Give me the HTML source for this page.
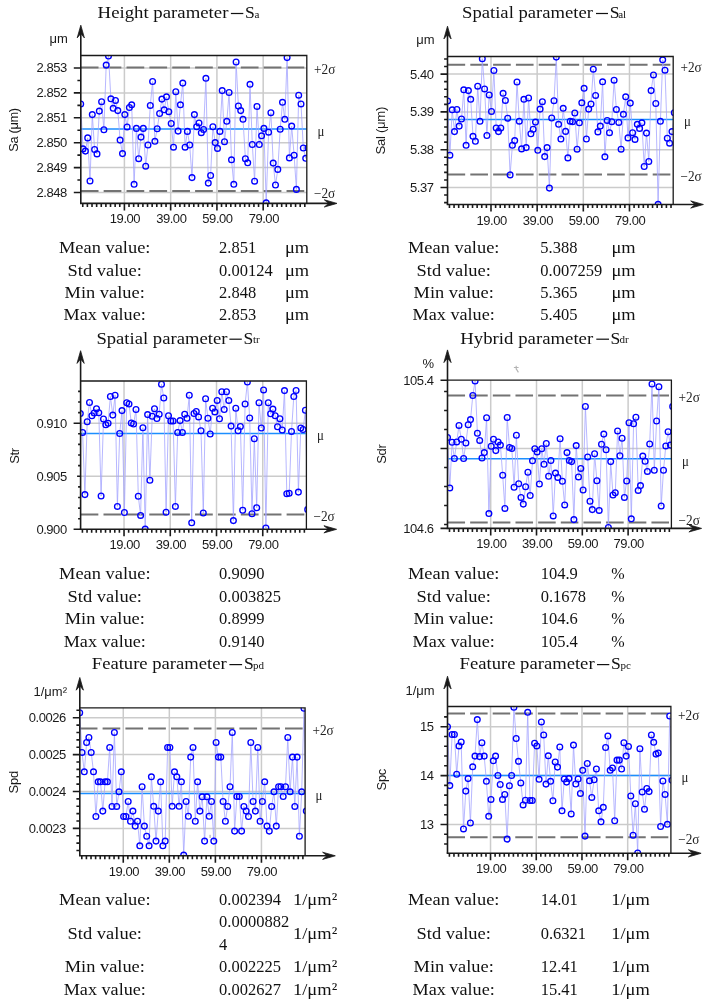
<!DOCTYPE html>
<html><head><meta charset="utf-8"><style>
html,body{margin:0;padding:0;background:#fff;}
svg{display:block;}
.txt{filter:grayscale(1);}
.tk{font-family:"Liberation Sans", sans-serif;font-size:13px;fill:#1a1a1a;letter-spacing:-0.45px;}
.un{font-family:"Liberation Sans", sans-serif;font-size:13px;fill:#1a1a1a;}
.yl{font-family:"Liberation Sans", sans-serif;font-size:13px;fill:#1a1a1a;letter-spacing:-0.3px;}
.rl{font-family:"Liberation Serif", serif;font-size:14px;fill:#222;}
.ti{font-family:"Liberation Serif", serif;font-size:17.6px;fill:#111;}
.sb{font-family:"Liberation Serif", serif;font-size:11px;fill:#111;}
.tb{font-family:"Liberation Serif", serif;font-size:17.2px;fill:#111;}
.tv{font-family:"Liberation Serif", serif;font-size:17.5px;fill:#111;}
</style></head><body>
<svg width="710" height="1003" viewBox="0 0 710 1003">
<rect width="710" height="1003" fill="#fff"/>
<line x1="80.8" y1="68.00" x2="306.8" y2="68.00" stroke="#cbcbcb" stroke-width="1.5"/>
<line x1="80.8" y1="92.90" x2="306.8" y2="92.90" stroke="#cbcbcb" stroke-width="1.5"/>
<line x1="80.8" y1="117.80" x2="306.8" y2="117.80" stroke="#cbcbcb" stroke-width="1.5"/>
<line x1="80.8" y1="142.70" x2="306.8" y2="142.70" stroke="#cbcbcb" stroke-width="1.5"/>
<line x1="80.8" y1="167.60" x2="306.8" y2="167.60" stroke="#cbcbcb" stroke-width="1.5"/>
<line x1="80.8" y1="192.50" x2="306.8" y2="192.50" stroke="#cbcbcb" stroke-width="1.5"/>
<line x1="124.40" y1="55.5" x2="124.40" y2="203.4" stroke="#cbcbcb" stroke-width="1.5"/>
<line x1="170.66" y1="55.5" x2="170.66" y2="203.4" stroke="#cbcbcb" stroke-width="1.5"/>
<line x1="216.92" y1="55.5" x2="216.92" y2="203.4" stroke="#cbcbcb" stroke-width="1.5"/>
<line x1="263.18" y1="55.5" x2="263.18" y2="203.4" stroke="#cbcbcb" stroke-width="1.5"/>
<line x1="80.8" y1="67.5" x2="306.8" y2="67.5" stroke="#737373" stroke-width="2" stroke-dasharray="17.72 5.14"/>
<line x1="80.8" y1="191.1" x2="306.8" y2="191.1" stroke="#737373" stroke-width="2" stroke-dasharray="17.72 5.14"/>
<line x1="80.8" y1="129.1" x2="306.8" y2="129.1" stroke="#1c8eff" stroke-width="1.5"/>
<clipPath id="c13"><rect x="80.8" y="55.5" width="226.0" height="147.9"/></clipPath>
<g clip-path="url(#c13)">
<polyline points="80.7,104.0 83.0,148.9 85.4,151.1 87.7,137.9 90.0,181.0 92.3,114.6 94.6,149.5 97.0,153.9 99.3,111.1 101.6,101.7 103.9,129.7 106.2,65.1 108.5,56.0 110.9,98.8 113.2,108.3 115.5,100.4 117.8,110.6 120.1,140.1 122.5,153.6 124.8,114.6 127.1,126.9 129.4,107.5 131.7,104.8 134.1,184.3 136.4,128.4 138.7,158.7 141.0,137.1 143.3,128.4 145.7,166.2 148.0,145.0 150.3,105.4 152.6,81.5 154.9,141.3 157.2,128.7 159.6,113.5 161.9,99.1 164.2,109.8 166.5,96.8 168.8,111.7 171.2,123.5 173.5,147.2 175.8,91.7 178.1,131.1 180.4,104.8 182.8,83.1 185.1,147.2 187.4,131.4 189.7,145.0 192.0,177.6 194.4,114.6 196.7,126.7 199.0,122.9 201.3,132.7 203.6,129.5 205.9,78.3 208.3,183.1 210.6,175.5 212.9,126.7 215.2,142.6 217.5,148.4 219.9,131.4 222.2,90.6 224.5,141.7 226.8,121.3 229.1,92.5 231.5,159.8 233.8,184.3 236.1,62.0 238.4,105.9 240.7,110.6 243.0,119.3 245.4,158.7 247.7,162.8 250.0,84.3 252.3,144.5 254.6,181.2 257.0,106.4 259.3,144.5 261.6,135.8 263.9,128.4 266.2,202.8 268.6,132.2 270.9,112.7 273.2,163.1 275.5,185.0 277.8,169.4 280.2,129.2 282.5,102.3 284.8,119.3 287.1,57.6 289.4,157.9 291.7,126.1 294.1,155.2 296.4,189.4 298.7,95.2 301.0,103.9 303.3,148.0 305.7,158.3 308.0,148.0" fill="none" stroke="#a4a4ff" stroke-width="0.8"/>
<g fill="none" stroke="#0000ff" stroke-width="1.35"><circle cx="80.7" cy="104.0" r="2.85"/><circle cx="83.0" cy="148.9" r="2.85"/><circle cx="85.4" cy="151.1" r="2.85"/><circle cx="87.7" cy="137.9" r="2.85"/><circle cx="90.0" cy="181.0" r="2.85"/><circle cx="92.3" cy="114.6" r="2.85"/><circle cx="94.6" cy="149.5" r="2.85"/><circle cx="97.0" cy="153.9" r="2.85"/><circle cx="99.3" cy="111.1" r="2.85"/><circle cx="101.6" cy="101.7" r="2.85"/><circle cx="103.9" cy="129.7" r="2.85"/><circle cx="106.2" cy="65.1" r="2.85"/><circle cx="108.5" cy="56.0" r="2.85"/><circle cx="110.9" cy="98.8" r="2.85"/><circle cx="113.2" cy="108.3" r="2.85"/><circle cx="115.5" cy="100.4" r="2.85"/><circle cx="117.8" cy="110.6" r="2.85"/><circle cx="120.1" cy="140.1" r="2.85"/><circle cx="122.5" cy="153.6" r="2.85"/><circle cx="124.8" cy="114.6" r="2.85"/><circle cx="127.1" cy="126.9" r="2.85"/><circle cx="129.4" cy="107.5" r="2.85"/><circle cx="131.7" cy="104.8" r="2.85"/><circle cx="134.1" cy="184.3" r="2.85"/><circle cx="136.4" cy="128.4" r="2.85"/><circle cx="138.7" cy="158.7" r="2.85"/><circle cx="141.0" cy="137.1" r="2.85"/><circle cx="143.3" cy="128.4" r="2.85"/><circle cx="145.7" cy="166.2" r="2.85"/><circle cx="148.0" cy="145.0" r="2.85"/><circle cx="150.3" cy="105.4" r="2.85"/><circle cx="152.6" cy="81.5" r="2.85"/><circle cx="154.9" cy="141.3" r="2.85"/><circle cx="157.2" cy="128.7" r="2.85"/><circle cx="159.6" cy="113.5" r="2.85"/><circle cx="161.9" cy="99.1" r="2.85"/><circle cx="164.2" cy="109.8" r="2.85"/><circle cx="166.5" cy="96.8" r="2.85"/><circle cx="168.8" cy="111.7" r="2.85"/><circle cx="171.2" cy="123.5" r="2.85"/><circle cx="173.5" cy="147.2" r="2.85"/><circle cx="175.8" cy="91.7" r="2.85"/><circle cx="178.1" cy="131.1" r="2.85"/><circle cx="180.4" cy="104.8" r="2.85"/><circle cx="182.8" cy="83.1" r="2.85"/><circle cx="185.1" cy="147.2" r="2.85"/><circle cx="187.4" cy="131.4" r="2.85"/><circle cx="189.7" cy="145.0" r="2.85"/><circle cx="192.0" cy="177.6" r="2.85"/><circle cx="194.4" cy="114.6" r="2.85"/><circle cx="196.7" cy="126.7" r="2.85"/><circle cx="199.0" cy="122.9" r="2.85"/><circle cx="201.3" cy="132.7" r="2.85"/><circle cx="203.6" cy="129.5" r="2.85"/><circle cx="205.9" cy="78.3" r="2.85"/><circle cx="208.3" cy="183.1" r="2.85"/><circle cx="210.6" cy="175.5" r="2.85"/><circle cx="212.9" cy="126.7" r="2.85"/><circle cx="215.2" cy="142.6" r="2.85"/><circle cx="217.5" cy="148.4" r="2.85"/><circle cx="219.9" cy="131.4" r="2.85"/><circle cx="222.2" cy="90.6" r="2.85"/><circle cx="224.5" cy="141.7" r="2.85"/><circle cx="226.8" cy="121.3" r="2.85"/><circle cx="229.1" cy="92.5" r="2.85"/><circle cx="231.5" cy="159.8" r="2.85"/><circle cx="233.8" cy="184.3" r="2.85"/><circle cx="236.1" cy="62.0" r="2.85"/><circle cx="238.4" cy="105.9" r="2.85"/><circle cx="240.7" cy="110.6" r="2.85"/><circle cx="243.0" cy="119.3" r="2.85"/><circle cx="245.4" cy="158.7" r="2.85"/><circle cx="247.7" cy="162.8" r="2.85"/><circle cx="250.0" cy="84.3" r="2.85"/><circle cx="252.3" cy="144.5" r="2.85"/><circle cx="254.6" cy="181.2" r="2.85"/><circle cx="257.0" cy="106.4" r="2.85"/><circle cx="259.3" cy="144.5" r="2.85"/><circle cx="261.6" cy="135.8" r="2.85"/><circle cx="263.9" cy="128.4" r="2.85"/><circle cx="266.2" cy="202.8" r="2.85"/><circle cx="268.6" cy="132.2" r="2.85"/><circle cx="270.9" cy="112.7" r="2.85"/><circle cx="273.2" cy="163.1" r="2.85"/><circle cx="275.5" cy="185.0" r="2.85"/><circle cx="277.8" cy="169.4" r="2.85"/><circle cx="280.2" cy="129.2" r="2.85"/><circle cx="282.5" cy="102.3" r="2.85"/><circle cx="284.8" cy="119.3" r="2.85"/><circle cx="287.1" cy="57.6" r="2.85"/><circle cx="289.4" cy="157.9" r="2.85"/><circle cx="291.7" cy="126.1" r="2.85"/><circle cx="294.1" cy="155.2" r="2.85"/><circle cx="296.4" cy="189.4" r="2.85"/><circle cx="298.7" cy="95.2" r="2.85"/><circle cx="301.0" cy="103.9" r="2.85"/><circle cx="303.3" cy="148.0" r="2.85"/><circle cx="305.7" cy="158.3" r="2.85"/><circle cx="308.0" cy="148.0" r="2.85"/></g>
</g>
<path d="M80.8,55.5H306.8V203.4" fill="none" stroke="#1a1a1a" stroke-width="1.3"/>
<line x1="80.8" y1="203.4" x2="80.8" y2="30.2" stroke="#1a1a1a" stroke-width="1.6"/>
<line x1="80.0" y1="203.4" x2="332.0" y2="203.4" stroke="#1a1a1a" stroke-width="1.6"/>
<path d="M80.8,25.2L84.4,37.9L80.8,33.5L77.2,37.9Z" fill="#1a1a1a" stroke="#1a1a1a" stroke-width="0.8" stroke-linejoin="miter"/>
<path d="M337.0,203.4L324.3,199.8L328.7,203.4L324.3,207.0Z" fill="#1a1a1a" stroke="#1a1a1a" stroke-width="0.8"/>
<path d="M73.8,68.00H80.8M73.8,92.90H80.8M73.8,117.80H80.8M73.8,142.70H80.8M73.8,167.60H80.8M73.8,192.50H80.8M77.4,80.45H80.8M77.4,105.35H80.8M77.4,130.25H80.8M77.4,155.15H80.8M77.4,180.05H80.8" stroke="#1a1a1a" stroke-width="1.6" fill="none"/>
<path d="M82.76,203.4V206.9M87.39,203.4V206.9M92.02,203.4V206.9M96.64,203.4V206.9M101.27,203.4V206.9M105.89,203.4V206.9M110.52,203.4V206.9M115.15,203.4V206.9M119.77,203.4V206.9M124.40,203.4V210.4M129.02,203.4V206.9M133.65,203.4V206.9M138.28,203.4V206.9M142.90,203.4V206.9M147.53,203.4V206.9M152.15,203.4V206.9M156.78,203.4V206.9M161.41,203.4V206.9M166.03,203.4V206.9M170.66,203.4V210.4M175.28,203.4V206.9M179.91,203.4V206.9M184.54,203.4V206.9M189.16,203.4V206.9M193.79,203.4V206.9M198.41,203.4V206.9M203.04,203.4V206.9M207.67,203.4V206.9M212.29,203.4V206.9M216.92,203.4V210.4M221.54,203.4V206.9M226.17,203.4V206.9M230.80,203.4V206.9M235.42,203.4V206.9M240.05,203.4V206.9M244.67,203.4V206.9M249.30,203.4V206.9M253.93,203.4V206.9M258.55,203.4V206.9M263.18,203.4V210.4M267.80,203.4V206.9M272.43,203.4V206.9M277.06,203.4V206.9M281.68,203.4V206.9M286.31,203.4V206.9M290.93,203.4V206.9M295.56,203.4V206.9M300.19,203.4V206.9M304.81,203.4V206.9" stroke="#1a1a1a" stroke-width="1.6" fill="none"/>
<line x1="447.5" y1="74.10" x2="673.2" y2="74.10" stroke="#cbcbcb" stroke-width="1.5"/>
<line x1="447.5" y1="111.90" x2="673.2" y2="111.90" stroke="#cbcbcb" stroke-width="1.5"/>
<line x1="447.5" y1="149.70" x2="673.2" y2="149.70" stroke="#cbcbcb" stroke-width="1.5"/>
<line x1="447.5" y1="187.50" x2="673.2" y2="187.50" stroke="#cbcbcb" stroke-width="1.5"/>
<line x1="490.99" y1="56.5" x2="490.99" y2="204.5" stroke="#cbcbcb" stroke-width="1.5"/>
<line x1="537.15" y1="56.5" x2="537.15" y2="204.5" stroke="#cbcbcb" stroke-width="1.5"/>
<line x1="583.31" y1="56.5" x2="583.31" y2="204.5" stroke="#cbcbcb" stroke-width="1.5"/>
<line x1="629.47" y1="56.5" x2="629.47" y2="204.5" stroke="#cbcbcb" stroke-width="1.5"/>
<line x1="447.5" y1="64.7" x2="673.2" y2="64.7" stroke="#737373" stroke-width="2" stroke-dasharray="17.67 5.13"/>
<line x1="447.5" y1="174.5" x2="673.2" y2="174.5" stroke="#737373" stroke-width="2" stroke-dasharray="17.67 5.13"/>
<line x1="447.5" y1="119.6" x2="673.2" y2="119.6" stroke="#1c8eff" stroke-width="1.5"/>
<clipPath id="c36"><rect x="447.5" y="56.5" width="225.7" height="148.0"/></clipPath>
<g clip-path="url(#c36)">
<polyline points="447.6,100.9 449.9,155.2 452.2,109.8 454.5,131.6 456.9,109.5 459.2,126.1 461.5,119.0 463.8,89.8 466.1,145.3 468.4,90.6 470.7,99.3 473.0,136.3 475.4,141.3 477.7,86.2 480.0,121.3 482.3,58.7 484.6,88.9 486.9,135.5 489.2,94.9 491.5,111.4 493.9,70.5 496.2,128.0 498.5,131.6 500.8,128.0 503.1,93.3 505.4,100.4 507.7,118.2 510.1,174.9 512.4,145.3 514.7,140.6 517.0,82.0 519.3,121.2 521.6,148.9 523.9,99.3 526.2,147.6 528.6,98.0 530.9,133.8 533.2,129.2 535.5,122.1 537.8,150.3 540.1,109.1 542.4,101.7 544.7,156.6 547.1,147.6 549.4,188.1 551.7,118.0 554.0,100.7 556.3,57.1 558.6,124.3 560.9,139.0 563.2,108.3 565.6,131.4 567.9,157.9 570.2,121.2 572.5,121.7 574.8,113.0 577.1,149.2 579.4,122.8 581.8,102.8 584.1,88.3 586.4,139.0 588.7,109.1 591.0,104.0 593.3,69.2 595.6,95.4 597.9,131.9 600.3,126.1 602.6,81.8 604.9,156.8 607.2,120.4 609.5,132.7 611.8,121.7 614.1,80.2 616.4,109.4 618.8,122.4 621.1,149.2 623.4,114.3 625.7,96.8 628.0,137.9 630.3,103.1 632.6,132.7 635.0,139.4 637.3,124.3 639.6,128.4 641.9,122.8 644.2,166.5 646.5,133.1 648.8,161.5 651.1,90.6 653.5,74.9 655.8,103.5 658.1,204.3 660.4,121.3 662.7,59.8 665.0,70.2 667.3,138.2 669.6,143.2 672.0,131.6 674.3,112.7" fill="none" stroke="#a4a4ff" stroke-width="0.8"/>
<g fill="none" stroke="#0000ff" stroke-width="1.35"><circle cx="447.6" cy="100.9" r="2.85"/><circle cx="449.9" cy="155.2" r="2.85"/><circle cx="452.2" cy="109.8" r="2.85"/><circle cx="454.5" cy="131.6" r="2.85"/><circle cx="456.9" cy="109.5" r="2.85"/><circle cx="459.2" cy="126.1" r="2.85"/><circle cx="461.5" cy="119.0" r="2.85"/><circle cx="463.8" cy="89.8" r="2.85"/><circle cx="466.1" cy="145.3" r="2.85"/><circle cx="468.4" cy="90.6" r="2.85"/><circle cx="470.7" cy="99.3" r="2.85"/><circle cx="473.0" cy="136.3" r="2.85"/><circle cx="475.4" cy="141.3" r="2.85"/><circle cx="477.7" cy="86.2" r="2.85"/><circle cx="480.0" cy="121.3" r="2.85"/><circle cx="482.3" cy="58.7" r="2.85"/><circle cx="484.6" cy="88.9" r="2.85"/><circle cx="486.9" cy="135.5" r="2.85"/><circle cx="489.2" cy="94.9" r="2.85"/><circle cx="491.5" cy="111.4" r="2.85"/><circle cx="493.9" cy="70.5" r="2.85"/><circle cx="496.2" cy="128.0" r="2.85"/><circle cx="498.5" cy="131.6" r="2.85"/><circle cx="500.8" cy="128.0" r="2.85"/><circle cx="503.1" cy="93.3" r="2.85"/><circle cx="505.4" cy="100.4" r="2.85"/><circle cx="507.7" cy="118.2" r="2.85"/><circle cx="510.1" cy="174.9" r="2.85"/><circle cx="512.4" cy="145.3" r="2.85"/><circle cx="514.7" cy="140.6" r="2.85"/><circle cx="517.0" cy="82.0" r="2.85"/><circle cx="519.3" cy="121.2" r="2.85"/><circle cx="521.6" cy="148.9" r="2.85"/><circle cx="523.9" cy="99.3" r="2.85"/><circle cx="526.2" cy="147.6" r="2.85"/><circle cx="528.6" cy="98.0" r="2.85"/><circle cx="530.9" cy="133.8" r="2.85"/><circle cx="533.2" cy="129.2" r="2.85"/><circle cx="535.5" cy="122.1" r="2.85"/><circle cx="537.8" cy="150.3" r="2.85"/><circle cx="540.1" cy="109.1" r="2.85"/><circle cx="542.4" cy="101.7" r="2.85"/><circle cx="544.7" cy="156.6" r="2.85"/><circle cx="547.1" cy="147.6" r="2.85"/><circle cx="549.4" cy="188.1" r="2.85"/><circle cx="551.7" cy="118.0" r="2.85"/><circle cx="554.0" cy="100.7" r="2.85"/><circle cx="556.3" cy="57.1" r="2.85"/><circle cx="558.6" cy="124.3" r="2.85"/><circle cx="560.9" cy="139.0" r="2.85"/><circle cx="563.2" cy="108.3" r="2.85"/><circle cx="565.6" cy="131.4" r="2.85"/><circle cx="567.9" cy="157.9" r="2.85"/><circle cx="570.2" cy="121.2" r="2.85"/><circle cx="572.5" cy="121.7" r="2.85"/><circle cx="574.8" cy="113.0" r="2.85"/><circle cx="577.1" cy="149.2" r="2.85"/><circle cx="579.4" cy="122.8" r="2.85"/><circle cx="581.8" cy="102.8" r="2.85"/><circle cx="584.1" cy="88.3" r="2.85"/><circle cx="586.4" cy="139.0" r="2.85"/><circle cx="588.7" cy="109.1" r="2.85"/><circle cx="591.0" cy="104.0" r="2.85"/><circle cx="593.3" cy="69.2" r="2.85"/><circle cx="595.6" cy="95.4" r="2.85"/><circle cx="597.9" cy="131.9" r="2.85"/><circle cx="600.3" cy="126.1" r="2.85"/><circle cx="602.6" cy="81.8" r="2.85"/><circle cx="604.9" cy="156.8" r="2.85"/><circle cx="607.2" cy="120.4" r="2.85"/><circle cx="609.5" cy="132.7" r="2.85"/><circle cx="611.8" cy="121.7" r="2.85"/><circle cx="614.1" cy="80.2" r="2.85"/><circle cx="616.4" cy="109.4" r="2.85"/><circle cx="618.8" cy="122.4" r="2.85"/><circle cx="621.1" cy="149.2" r="2.85"/><circle cx="623.4" cy="114.3" r="2.85"/><circle cx="625.7" cy="96.8" r="2.85"/><circle cx="628.0" cy="137.9" r="2.85"/><circle cx="630.3" cy="103.1" r="2.85"/><circle cx="632.6" cy="132.7" r="2.85"/><circle cx="635.0" cy="139.4" r="2.85"/><circle cx="637.3" cy="124.3" r="2.85"/><circle cx="639.6" cy="128.4" r="2.85"/><circle cx="641.9" cy="122.8" r="2.85"/><circle cx="644.2" cy="166.5" r="2.85"/><circle cx="646.5" cy="133.1" r="2.85"/><circle cx="648.8" cy="161.5" r="2.85"/><circle cx="651.1" cy="90.6" r="2.85"/><circle cx="653.5" cy="74.9" r="2.85"/><circle cx="655.8" cy="103.5" r="2.85"/><circle cx="658.1" cy="204.3" r="2.85"/><circle cx="660.4" cy="121.3" r="2.85"/><circle cx="662.7" cy="59.8" r="2.85"/><circle cx="665.0" cy="70.2" r="2.85"/><circle cx="667.3" cy="138.2" r="2.85"/><circle cx="669.6" cy="143.2" r="2.85"/><circle cx="672.0" cy="131.6" r="2.85"/><circle cx="674.3" cy="112.7" r="2.85"/></g>
</g>
<path d="M447.5,56.5H673.2V204.5" fill="none" stroke="#1a1a1a" stroke-width="1.3"/>
<line x1="447.5" y1="204.5" x2="447.5" y2="31.2" stroke="#1a1a1a" stroke-width="1.6"/>
<line x1="446.7" y1="204.5" x2="698.4" y2="204.5" stroke="#1a1a1a" stroke-width="1.6"/>
<path d="M447.5,26.2L451.1,38.9L447.5,34.5L443.9,38.9Z" fill="#1a1a1a" stroke="#1a1a1a" stroke-width="0.8" stroke-linejoin="miter"/>
<path d="M703.4,204.5L690.7,200.9L695.1,204.5L690.7,208.1Z" fill="#1a1a1a" stroke="#1a1a1a" stroke-width="0.8"/>
<path d="M440.5,74.10H447.5M440.5,111.90H447.5M440.5,149.70H447.5M440.5,187.50H447.5M444.1,58.98H447.5M444.1,66.54H447.5M444.1,81.66H447.5M444.1,89.22H447.5M444.1,96.78H447.5M444.1,104.34H447.5M444.1,119.46H447.5M444.1,127.02H447.5M444.1,134.58H447.5M444.1,142.14H447.5M444.1,157.26H447.5M444.1,164.82H447.5M444.1,172.38H447.5M444.1,179.94H447.5M444.1,195.06H447.5M444.1,202.62H447.5" stroke="#1a1a1a" stroke-width="1.6" fill="none"/>
<path d="M449.45,204.5V208.0M454.06,204.5V208.0M458.68,204.5V208.0M463.30,204.5V208.0M467.91,204.5V208.0M472.53,204.5V208.0M477.14,204.5V208.0M481.76,204.5V208.0M486.38,204.5V208.0M490.99,204.5V211.5M495.61,204.5V208.0M500.22,204.5V208.0M504.84,204.5V208.0M509.46,204.5V208.0M514.07,204.5V208.0M518.69,204.5V208.0M523.30,204.5V208.0M527.92,204.5V208.0M532.54,204.5V208.0M537.15,204.5V211.5M541.77,204.5V208.0M546.38,204.5V208.0M551.00,204.5V208.0M555.62,204.5V208.0M560.23,204.5V208.0M564.85,204.5V208.0M569.46,204.5V208.0M574.08,204.5V208.0M578.70,204.5V208.0M583.31,204.5V211.5M587.93,204.5V208.0M592.54,204.5V208.0M597.16,204.5V208.0M601.78,204.5V208.0M606.39,204.5V208.0M611.01,204.5V208.0M615.62,204.5V208.0M620.24,204.5V208.0M624.86,204.5V208.0M629.47,204.5V211.5M634.09,204.5V208.0M638.70,204.5V208.0M643.32,204.5V208.0M647.94,204.5V208.0M652.55,204.5V208.0M657.17,204.5V208.0M661.78,204.5V208.0M666.40,204.5V208.0M671.02,204.5V208.0" stroke="#1a1a1a" stroke-width="1.6" fill="none"/>
<line x1="80.6" y1="423.20" x2="306.4" y2="423.20" stroke="#cbcbcb" stroke-width="1.5"/>
<line x1="80.6" y1="476.25" x2="306.4" y2="476.25" stroke="#cbcbcb" stroke-width="1.5"/>
<line x1="124.03" y1="381.0" x2="124.03" y2="529.3" stroke="#cbcbcb" stroke-width="1.5"/>
<line x1="170.27" y1="381.0" x2="170.27" y2="529.3" stroke="#cbcbcb" stroke-width="1.5"/>
<line x1="216.51" y1="381.0" x2="216.51" y2="529.3" stroke="#cbcbcb" stroke-width="1.5"/>
<line x1="262.75" y1="381.0" x2="262.75" y2="529.3" stroke="#cbcbcb" stroke-width="1.5"/>
<line x1="80.6" y1="514.6" x2="306.4" y2="514.6" stroke="#737373" stroke-width="2" stroke-dasharray="17.74 5.15"/>
<line x1="80.6" y1="433.5" x2="306.4" y2="433.5" stroke="#1c8eff" stroke-width="1.5"/>
<clipPath id="c56"><rect x="80.6" y="381.0" width="225.8" height="148.3"/></clipPath>
<g clip-path="url(#c56)">
<polyline points="80.3,413.5 82.6,432.4 84.9,494.6 87.2,421.7 89.5,402.5 91.9,415.8 94.2,413.0 96.5,408.8 98.8,412.7 101.1,496.0 103.5,419.0 105.8,424.8 108.1,423.2 110.4,396.5 112.8,415.1 115.1,395.2 117.4,506.4 119.7,433.5 122.0,410.6 124.4,512.5 126.7,402.8 129.0,404.0 131.3,422.9 133.6,424.0 136.0,409.5 138.3,496.2 140.6,515.4 142.9,427.7 145.2,529.1 147.6,414.6 149.9,480.3 152.2,416.2 154.5,408.8 156.9,418.5 159.2,414.3 161.5,384.2 163.8,398.0 166.1,512.2 168.5,415.8 170.8,420.9 173.1,420.9 175.4,506.4 177.7,432.4 180.1,420.6 182.4,432.4 184.7,414.3 187.0,418.2 189.3,395.2 191.7,522.8 194.0,413.5 196.3,411.4 198.6,416.9 201.0,430.8 203.3,513.0 205.6,398.8 207.9,418.2 210.2,434.0 212.6,408.3 214.9,411.9 217.2,400.4 219.5,418.8 221.8,391.7 224.2,409.5 226.5,391.7 228.8,400.4 231.1,426.1 233.4,520.6 235.8,408.3 238.1,430.8 240.4,426.4 242.7,510.2 245.1,404.0 247.4,382.0 249.7,418.0 252.0,513.8 254.3,438.7 256.7,507.8 259.0,402.8 261.3,428.0 263.6,389.9 265.9,528.0 268.3,402.8 270.6,413.8 272.9,409.1 275.2,415.8 277.5,426.7 279.9,418.8 282.2,430.0 284.5,390.6 286.8,493.8 289.2,493.3 291.5,431.4 293.8,396.5 296.1,390.5 298.4,492.1 300.8,428.0 303.1,429.5 305.4,410.3 307.7,509.5" fill="none" stroke="#a4a4ff" stroke-width="0.8"/>
<g fill="none" stroke="#0000ff" stroke-width="1.35"><circle cx="80.3" cy="413.5" r="2.85"/><circle cx="82.6" cy="432.4" r="2.85"/><circle cx="84.9" cy="494.6" r="2.85"/><circle cx="87.2" cy="421.7" r="2.85"/><circle cx="89.5" cy="402.5" r="2.85"/><circle cx="91.9" cy="415.8" r="2.85"/><circle cx="94.2" cy="413.0" r="2.85"/><circle cx="96.5" cy="408.8" r="2.85"/><circle cx="98.8" cy="412.7" r="2.85"/><circle cx="101.1" cy="496.0" r="2.85"/><circle cx="103.5" cy="419.0" r="2.85"/><circle cx="105.8" cy="424.8" r="2.85"/><circle cx="108.1" cy="423.2" r="2.85"/><circle cx="110.4" cy="396.5" r="2.85"/><circle cx="112.8" cy="415.1" r="2.85"/><circle cx="115.1" cy="395.2" r="2.85"/><circle cx="117.4" cy="506.4" r="2.85"/><circle cx="119.7" cy="433.5" r="2.85"/><circle cx="122.0" cy="410.6" r="2.85"/><circle cx="124.4" cy="512.5" r="2.85"/><circle cx="126.7" cy="402.8" r="2.85"/><circle cx="129.0" cy="404.0" r="2.85"/><circle cx="131.3" cy="422.9" r="2.85"/><circle cx="133.6" cy="424.0" r="2.85"/><circle cx="136.0" cy="409.5" r="2.85"/><circle cx="138.3" cy="496.2" r="2.85"/><circle cx="140.6" cy="515.4" r="2.85"/><circle cx="142.9" cy="427.7" r="2.85"/><circle cx="145.2" cy="529.1" r="2.85"/><circle cx="147.6" cy="414.6" r="2.85"/><circle cx="149.9" cy="480.3" r="2.85"/><circle cx="152.2" cy="416.2" r="2.85"/><circle cx="154.5" cy="408.8" r="2.85"/><circle cx="156.9" cy="418.5" r="2.85"/><circle cx="159.2" cy="414.3" r="2.85"/><circle cx="161.5" cy="384.2" r="2.85"/><circle cx="163.8" cy="398.0" r="2.85"/><circle cx="166.1" cy="512.2" r="2.85"/><circle cx="168.5" cy="415.8" r="2.85"/><circle cx="170.8" cy="420.9" r="2.85"/><circle cx="173.1" cy="420.9" r="2.85"/><circle cx="175.4" cy="506.4" r="2.85"/><circle cx="177.7" cy="432.4" r="2.85"/><circle cx="180.1" cy="420.6" r="2.85"/><circle cx="182.4" cy="432.4" r="2.85"/><circle cx="184.7" cy="414.3" r="2.85"/><circle cx="187.0" cy="418.2" r="2.85"/><circle cx="189.3" cy="395.2" r="2.85"/><circle cx="191.7" cy="522.8" r="2.85"/><circle cx="194.0" cy="413.5" r="2.85"/><circle cx="196.3" cy="411.4" r="2.85"/><circle cx="198.6" cy="416.9" r="2.85"/><circle cx="201.0" cy="430.8" r="2.85"/><circle cx="203.3" cy="513.0" r="2.85"/><circle cx="205.6" cy="398.8" r="2.85"/><circle cx="207.9" cy="418.2" r="2.85"/><circle cx="210.2" cy="434.0" r="2.85"/><circle cx="212.6" cy="408.3" r="2.85"/><circle cx="214.9" cy="411.9" r="2.85"/><circle cx="217.2" cy="400.4" r="2.85"/><circle cx="219.5" cy="418.8" r="2.85"/><circle cx="221.8" cy="391.7" r="2.85"/><circle cx="224.2" cy="409.5" r="2.85"/><circle cx="226.5" cy="391.7" r="2.85"/><circle cx="228.8" cy="400.4" r="2.85"/><circle cx="231.1" cy="426.1" r="2.85"/><circle cx="233.4" cy="520.6" r="2.85"/><circle cx="235.8" cy="408.3" r="2.85"/><circle cx="238.1" cy="430.8" r="2.85"/><circle cx="240.4" cy="426.4" r="2.85"/><circle cx="242.7" cy="510.2" r="2.85"/><circle cx="245.1" cy="404.0" r="2.85"/><circle cx="247.4" cy="382.0" r="2.85"/><circle cx="249.7" cy="418.0" r="2.85"/><circle cx="252.0" cy="513.8" r="2.85"/><circle cx="254.3" cy="438.7" r="2.85"/><circle cx="256.7" cy="507.8" r="2.85"/><circle cx="259.0" cy="402.8" r="2.85"/><circle cx="261.3" cy="428.0" r="2.85"/><circle cx="263.6" cy="389.9" r="2.85"/><circle cx="265.9" cy="528.0" r="2.85"/><circle cx="268.3" cy="402.8" r="2.85"/><circle cx="270.6" cy="413.8" r="2.85"/><circle cx="272.9" cy="409.1" r="2.85"/><circle cx="275.2" cy="415.8" r="2.85"/><circle cx="277.5" cy="426.7" r="2.85"/><circle cx="279.9" cy="418.8" r="2.85"/><circle cx="282.2" cy="430.0" r="2.85"/><circle cx="284.5" cy="390.6" r="2.85"/><circle cx="286.8" cy="493.8" r="2.85"/><circle cx="289.2" cy="493.3" r="2.85"/><circle cx="291.5" cy="431.4" r="2.85"/><circle cx="293.8" cy="396.5" r="2.85"/><circle cx="296.1" cy="390.5" r="2.85"/><circle cx="298.4" cy="492.1" r="2.85"/><circle cx="300.8" cy="428.0" r="2.85"/><circle cx="303.1" cy="429.5" r="2.85"/><circle cx="305.4" cy="410.3" r="2.85"/><circle cx="307.7" cy="509.5" r="2.85"/></g>
</g>
<path d="M80.6,381.0H306.4V529.3" fill="none" stroke="#1a1a1a" stroke-width="1.3"/>
<line x1="80.6" y1="529.3" x2="80.6" y2="355.7" stroke="#1a1a1a" stroke-width="1.6"/>
<line x1="79.8" y1="529.3" x2="331.6" y2="529.3" stroke="#1a1a1a" stroke-width="1.6"/>
<path d="M80.6,350.7L84.2,363.4L80.6,359.0L77.0,363.4Z" fill="#1a1a1a" stroke="#1a1a1a" stroke-width="0.8" stroke-linejoin="miter"/>
<path d="M336.6,529.3L323.9,525.7L328.3,529.3L323.9,532.9Z" fill="#1a1a1a" stroke="#1a1a1a" stroke-width="0.8"/>
<path d="M73.6,423.20H80.6M73.6,529.30H80.6M77.1,476.25H80.6M78.1,391.37H80.6M78.1,401.98H80.6M78.1,412.59H80.6M78.1,433.81H80.6M78.1,444.42H80.6M78.1,455.03H80.6M78.1,465.64H80.6M78.1,486.86H80.6M78.1,497.47H80.6M78.1,508.08H80.6M78.1,518.69H80.6" stroke="#1a1a1a" stroke-width="1.6" fill="none"/>
<path d="M82.41,529.3V532.8M87.04,529.3V532.8M91.66,529.3V532.8M96.28,529.3V532.8M100.91,529.3V532.8M105.53,529.3V532.8M110.16,529.3V532.8M114.78,529.3V532.8M119.40,529.3V532.8M124.03,529.3V536.3M128.65,529.3V532.8M133.28,529.3V532.8M137.90,529.3V532.8M142.52,529.3V532.8M147.15,529.3V532.8M151.77,529.3V532.8M156.40,529.3V532.8M161.02,529.3V532.8M165.64,529.3V532.8M170.27,529.3V536.3M174.89,529.3V532.8M179.52,529.3V532.8M184.14,529.3V532.8M188.76,529.3V532.8M193.39,529.3V532.8M198.01,529.3V532.8M202.64,529.3V532.8M207.26,529.3V532.8M211.88,529.3V532.8M216.51,529.3V536.3M221.13,529.3V532.8M225.76,529.3V532.8M230.38,529.3V532.8M235.00,529.3V532.8M239.63,529.3V532.8M244.25,529.3V532.8M248.88,529.3V532.8M253.50,529.3V532.8M258.12,529.3V532.8M262.75,529.3V536.3M267.37,529.3V532.8M272.00,529.3V532.8M276.62,529.3V532.8M281.24,529.3V532.8M285.87,529.3V532.8M290.49,529.3V532.8M295.12,529.3V532.8M299.74,529.3V532.8M304.36,529.3V532.8" stroke="#1a1a1a" stroke-width="1.6" fill="none"/>
<line x1="447.5" y1="448.50" x2="671.4" y2="448.50" stroke="#cbcbcb" stroke-width="1.5"/>
<line x1="490.71" y1="380.2" x2="490.71" y2="528.4" stroke="#cbcbcb" stroke-width="1.5"/>
<line x1="536.51" y1="380.2" x2="536.51" y2="528.4" stroke="#cbcbcb" stroke-width="1.5"/>
<line x1="582.31" y1="380.2" x2="582.31" y2="528.4" stroke="#cbcbcb" stroke-width="1.5"/>
<line x1="628.11" y1="380.2" x2="628.11" y2="528.4" stroke="#cbcbcb" stroke-width="1.5"/>
<line x1="447.5" y1="395.6" x2="671.4" y2="395.6" stroke="#737373" stroke-width="2" stroke-dasharray="17.56 5.10"/>
<line x1="447.5" y1="522.6" x2="671.4" y2="522.6" stroke="#737373" stroke-width="2" stroke-dasharray="17.56 5.10"/>
<line x1="447.5" y1="458.8" x2="671.4" y2="458.8" stroke="#1c8eff" stroke-width="1.5"/>
<clipPath id="c76"><rect x="447.5" y="380.2" width="223.9" height="148.2"/></clipPath>
<g clip-path="url(#c76)">
<polyline points="447.5,437.5 449.8,487.9 452.1,442.2 454.4,458.5 456.7,441.9 459.0,425.4 461.3,439.3 463.6,458.5 465.9,443.0 468.2,424.8 470.5,419.6 472.8,395.5 475.1,381.0 477.4,433.3 479.7,440.4 482.0,458.0 484.3,452.6 486.6,417.8 488.9,513.6 491.2,446.2 493.5,439.3 495.8,450.6 498.1,441.9 500.4,445.1 502.7,475.3 504.9,508.4 507.2,417.5 509.5,447.4 511.8,448.5 514.1,487.3 516.4,435.3 518.7,483.7 521.0,497.4 523.3,504.1 525.6,486.8 527.9,472.2 530.2,495.5 532.5,460.8 534.8,448.7 537.1,451.9 539.4,484.0 541.7,448.7 544.0,464.3 546.3,443.5 548.6,476.3 550.9,460.5 553.2,515.9 555.5,473.1 557.8,477.4 560.1,438.8 562.4,481.3 564.7,504.9 567.0,452.6 569.3,460.4 571.6,461.6 573.9,519.6 576.2,445.6 578.5,476.9 580.8,468.4 583.1,490.0 585.4,406.5 587.7,456.9 590.0,501.3 592.3,509.6 594.6,453.7 596.9,480.8 599.2,510.4 601.5,444.3 603.8,434.1 606.1,449.8 608.4,527.4 610.7,461.6 613.0,495.0 615.3,492.8 617.6,430.9 619.9,455.8 622.1,438.3 624.4,497.4 626.7,481.0 629.0,422.7 631.3,518.8 633.6,423.8 635.9,417.2 638.2,490.4 640.5,485.6 642.8,456.1 645.1,461.3 647.4,471.4 649.7,444.0 652.0,384.0 654.3,470.3 656.6,421.0 658.9,386.8 661.2,506.0 663.5,470.3 665.8,445.9 668.1,431.7 670.4,445.1 672.7,406.5" fill="none" stroke="#a4a4ff" stroke-width="0.8"/>
<g fill="none" stroke="#0000ff" stroke-width="1.35"><circle cx="447.5" cy="437.5" r="2.85"/><circle cx="449.8" cy="487.9" r="2.85"/><circle cx="452.1" cy="442.2" r="2.85"/><circle cx="454.4" cy="458.5" r="2.85"/><circle cx="456.7" cy="441.9" r="2.85"/><circle cx="459.0" cy="425.4" r="2.85"/><circle cx="461.3" cy="439.3" r="2.85"/><circle cx="463.6" cy="458.5" r="2.85"/><circle cx="465.9" cy="443.0" r="2.85"/><circle cx="468.2" cy="424.8" r="2.85"/><circle cx="470.5" cy="419.6" r="2.85"/><circle cx="472.8" cy="395.5" r="2.85"/><circle cx="475.1" cy="381.0" r="2.85"/><circle cx="477.4" cy="433.3" r="2.85"/><circle cx="479.7" cy="440.4" r="2.85"/><circle cx="482.0" cy="458.0" r="2.85"/><circle cx="484.3" cy="452.6" r="2.85"/><circle cx="486.6" cy="417.8" r="2.85"/><circle cx="488.9" cy="513.6" r="2.85"/><circle cx="491.2" cy="446.2" r="2.85"/><circle cx="493.5" cy="439.3" r="2.85"/><circle cx="495.8" cy="450.6" r="2.85"/><circle cx="498.1" cy="441.9" r="2.85"/><circle cx="500.4" cy="445.1" r="2.85"/><circle cx="502.7" cy="475.3" r="2.85"/><circle cx="504.9" cy="508.4" r="2.85"/><circle cx="507.2" cy="417.5" r="2.85"/><circle cx="509.5" cy="447.4" r="2.85"/><circle cx="511.8" cy="448.5" r="2.85"/><circle cx="514.1" cy="487.3" r="2.85"/><circle cx="516.4" cy="435.3" r="2.85"/><circle cx="518.7" cy="483.7" r="2.85"/><circle cx="521.0" cy="497.4" r="2.85"/><circle cx="523.3" cy="504.1" r="2.85"/><circle cx="525.6" cy="486.8" r="2.85"/><circle cx="527.9" cy="472.2" r="2.85"/><circle cx="530.2" cy="495.5" r="2.85"/><circle cx="532.5" cy="460.8" r="2.85"/><circle cx="534.8" cy="448.7" r="2.85"/><circle cx="537.1" cy="451.9" r="2.85"/><circle cx="539.4" cy="484.0" r="2.85"/><circle cx="541.7" cy="448.7" r="2.85"/><circle cx="544.0" cy="464.3" r="2.85"/><circle cx="546.3" cy="443.5" r="2.85"/><circle cx="548.6" cy="476.3" r="2.85"/><circle cx="550.9" cy="460.5" r="2.85"/><circle cx="553.2" cy="515.9" r="2.85"/><circle cx="555.5" cy="473.1" r="2.85"/><circle cx="557.8" cy="477.4" r="2.85"/><circle cx="560.1" cy="438.8" r="2.85"/><circle cx="562.4" cy="481.3" r="2.85"/><circle cx="564.7" cy="504.9" r="2.85"/><circle cx="567.0" cy="452.6" r="2.85"/><circle cx="569.3" cy="460.4" r="2.85"/><circle cx="571.6" cy="461.6" r="2.85"/><circle cx="573.9" cy="519.6" r="2.85"/><circle cx="576.2" cy="445.6" r="2.85"/><circle cx="578.5" cy="476.9" r="2.85"/><circle cx="580.8" cy="468.4" r="2.85"/><circle cx="583.1" cy="490.0" r="2.85"/><circle cx="585.4" cy="406.5" r="2.85"/><circle cx="587.7" cy="456.9" r="2.85"/><circle cx="590.0" cy="501.3" r="2.85"/><circle cx="592.3" cy="509.6" r="2.85"/><circle cx="594.6" cy="453.7" r="2.85"/><circle cx="596.9" cy="480.8" r="2.85"/><circle cx="599.2" cy="510.4" r="2.85"/><circle cx="601.5" cy="444.3" r="2.85"/><circle cx="603.8" cy="434.1" r="2.85"/><circle cx="606.1" cy="449.8" r="2.85"/><circle cx="608.4" cy="527.4" r="2.85"/><circle cx="610.7" cy="461.6" r="2.85"/><circle cx="613.0" cy="495.0" r="2.85"/><circle cx="615.3" cy="492.8" r="2.85"/><circle cx="617.6" cy="430.9" r="2.85"/><circle cx="619.9" cy="455.8" r="2.85"/><circle cx="622.1" cy="438.3" r="2.85"/><circle cx="624.4" cy="497.4" r="2.85"/><circle cx="626.7" cy="481.0" r="2.85"/><circle cx="629.0" cy="422.7" r="2.85"/><circle cx="631.3" cy="518.8" r="2.85"/><circle cx="633.6" cy="423.8" r="2.85"/><circle cx="635.9" cy="417.2" r="2.85"/><circle cx="638.2" cy="490.4" r="2.85"/><circle cx="640.5" cy="485.6" r="2.85"/><circle cx="642.8" cy="456.1" r="2.85"/><circle cx="645.1" cy="461.3" r="2.85"/><circle cx="647.4" cy="471.4" r="2.85"/><circle cx="649.7" cy="444.0" r="2.85"/><circle cx="652.0" cy="384.0" r="2.85"/><circle cx="654.3" cy="470.3" r="2.85"/><circle cx="656.6" cy="421.0" r="2.85"/><circle cx="658.9" cy="386.8" r="2.85"/><circle cx="661.2" cy="506.0" r="2.85"/><circle cx="663.5" cy="470.3" r="2.85"/><circle cx="665.8" cy="445.9" r="2.85"/><circle cx="668.1" cy="431.7" r="2.85"/><circle cx="670.4" cy="445.1" r="2.85"/><circle cx="672.7" cy="406.5" r="2.85"/></g>
</g>
<path d="M447.5,380.2H671.4V528.4" fill="none" stroke="#1a1a1a" stroke-width="1.3"/>
<line x1="447.5" y1="528.4" x2="447.5" y2="354.9" stroke="#1a1a1a" stroke-width="1.6"/>
<line x1="446.7" y1="528.4" x2="696.6" y2="528.4" stroke="#1a1a1a" stroke-width="1.6"/>
<path d="M447.5,349.9L451.1,362.6L447.5,358.2L443.9,362.6Z" fill="#1a1a1a" stroke="#1a1a1a" stroke-width="0.8" stroke-linejoin="miter"/>
<path d="M701.6,528.4L688.9,524.8L693.3,528.4L688.9,532.0Z" fill="#1a1a1a" stroke="#1a1a1a" stroke-width="0.8"/>
<path d="M440.5,380.20H447.5M440.5,448.50H447.5M440.5,528.40H447.5M444.1,391.50H447.5M444.1,410.50H447.5M444.1,429.50H447.5M444.1,467.50H447.5M444.1,486.50H447.5M444.1,505.50H447.5M444.1,524.50H447.5" stroke="#1a1a1a" stroke-width="1.6" fill="none"/>
<path d="M449.49,528.4V531.9M454.07,528.4V531.9M458.65,528.4V531.9M463.23,528.4V531.9M467.81,528.4V531.9M472.39,528.4V531.9M476.97,528.4V531.9M481.55,528.4V531.9M486.13,528.4V531.9M490.71,528.4V535.4M495.29,528.4V531.9M499.87,528.4V531.9M504.45,528.4V531.9M509.03,528.4V531.9M513.61,528.4V531.9M518.19,528.4V531.9M522.77,528.4V531.9M527.35,528.4V531.9M531.93,528.4V531.9M536.51,528.4V535.4M541.09,528.4V531.9M545.67,528.4V531.9M550.25,528.4V531.9M554.83,528.4V531.9M559.41,528.4V531.9M563.99,528.4V531.9M568.57,528.4V531.9M573.15,528.4V531.9M577.73,528.4V531.9M582.31,528.4V535.4M586.89,528.4V531.9M591.47,528.4V531.9M596.05,528.4V531.9M600.63,528.4V531.9M605.21,528.4V531.9M609.79,528.4V531.9M614.37,528.4V531.9M618.95,528.4V531.9M623.53,528.4V531.9M628.11,528.4V535.4M632.69,528.4V531.9M637.27,528.4V531.9M641.85,528.4V531.9M646.43,528.4V531.9M651.01,528.4V531.9M655.59,528.4V531.9M660.17,528.4V531.9M664.75,528.4V531.9M669.33,528.4V531.9" stroke="#1a1a1a" stroke-width="1.6" fill="none"/>
<line x1="79.8" y1="717.70" x2="305.1" y2="717.70" stroke="#cbcbcb" stroke-width="1.5"/>
<line x1="79.8" y1="754.60" x2="305.1" y2="754.60" stroke="#cbcbcb" stroke-width="1.5"/>
<line x1="79.8" y1="791.50" x2="305.1" y2="791.50" stroke="#cbcbcb" stroke-width="1.5"/>
<line x1="79.8" y1="828.40" x2="305.1" y2="828.40" stroke="#cbcbcb" stroke-width="1.5"/>
<line x1="123.26" y1="707.8" x2="123.26" y2="855.8" stroke="#cbcbcb" stroke-width="1.5"/>
<line x1="169.32" y1="707.8" x2="169.32" y2="855.8" stroke="#cbcbcb" stroke-width="1.5"/>
<line x1="215.38" y1="707.8" x2="215.38" y2="855.8" stroke="#cbcbcb" stroke-width="1.5"/>
<line x1="261.44" y1="707.8" x2="261.44" y2="855.8" stroke="#cbcbcb" stroke-width="1.5"/>
<line x1="79.8" y1="728.6" x2="305.1" y2="728.6" stroke="#737373" stroke-width="2" stroke-dasharray="17.67 5.13"/>
<line x1="79.8" y1="793.6" x2="305.1" y2="793.6" stroke="#1c8eff" stroke-width="1.5"/>
<clipPath id="c98"><rect x="79.8" y="707.8" width="225.3" height="148.0"/></clipPath>
<g clip-path="url(#c98)">
<polyline points="79.7,712.7 82.0,752.4 84.3,771.8 86.6,742.5 88.9,737.4 91.2,752.4 93.5,771.8 95.9,816.5 98.2,781.8 100.5,781.8 102.8,811.1 105.1,781.8 107.4,781.8 109.7,747.4 112.0,806.4 114.4,732.4 116.7,806.4 119.0,791.8 121.3,771.8 123.6,816.5 125.9,816.5 128.2,801.5 130.5,821.2 132.9,811.1 135.2,826.1 137.5,821.2 139.8,845.8 142.1,786.7 144.4,826.1 146.7,836.2 149.1,845.8 151.4,776.8 153.7,806.3 156.0,841.1 158.3,811.1 160.6,781.8 162.9,845.8 165.2,841.1 167.6,747.4 169.9,747.4 172.2,806.3 174.5,771.8 176.8,776.8 179.1,806.3 181.4,781.8 183.7,855.1 186.1,801.5 188.4,816.2 190.7,757.1 193.0,747.4 195.3,821.2 197.6,781.8 199.9,811.1 202.2,796.8 204.6,841.1 206.9,796.8 209.2,816.2 211.5,801.5 213.8,841.1 216.1,742.5 218.4,757.1 220.8,757.1 223.1,801.5 225.4,821.2 227.7,806.4 230.0,786.7 232.3,732.4 234.6,831.1 236.9,796.5 239.3,796.5 241.6,831.1 243.9,806.4 246.2,811.1 248.5,816.5 250.8,742.5 253.1,801.5 255.4,811.1 257.8,747.4 260.1,821.2 262.4,801.5 264.7,781.8 267.0,826.1 269.3,831.1 271.6,806.4 274.0,791.8 276.3,826.1 278.6,786.7 280.9,786.7 283.2,796.5 285.5,786.7 287.8,737.4 290.1,791.8 292.5,757.1 294.8,806.4 297.1,757.1 299.4,836.2 301.7,791.8 304.0,708.3 306.3,811.1" fill="none" stroke="#a4a4ff" stroke-width="0.8"/>
<g fill="none" stroke="#0000ff" stroke-width="1.35"><circle cx="79.7" cy="712.7" r="2.85"/><circle cx="82.0" cy="752.4" r="2.85"/><circle cx="84.3" cy="771.8" r="2.85"/><circle cx="86.6" cy="742.5" r="2.85"/><circle cx="88.9" cy="737.4" r="2.85"/><circle cx="91.2" cy="752.4" r="2.85"/><circle cx="93.5" cy="771.8" r="2.85"/><circle cx="95.9" cy="816.5" r="2.85"/><circle cx="98.2" cy="781.8" r="2.85"/><circle cx="100.5" cy="781.8" r="2.85"/><circle cx="102.8" cy="811.1" r="2.85"/><circle cx="105.1" cy="781.8" r="2.85"/><circle cx="107.4" cy="781.8" r="2.85"/><circle cx="109.7" cy="747.4" r="2.85"/><circle cx="112.0" cy="806.4" r="2.85"/><circle cx="114.4" cy="732.4" r="2.85"/><circle cx="116.7" cy="806.4" r="2.85"/><circle cx="119.0" cy="791.8" r="2.85"/><circle cx="121.3" cy="771.8" r="2.85"/><circle cx="123.6" cy="816.5" r="2.85"/><circle cx="125.9" cy="816.5" r="2.85"/><circle cx="128.2" cy="801.5" r="2.85"/><circle cx="130.5" cy="821.2" r="2.85"/><circle cx="132.9" cy="811.1" r="2.85"/><circle cx="135.2" cy="826.1" r="2.85"/><circle cx="137.5" cy="821.2" r="2.85"/><circle cx="139.8" cy="845.8" r="2.85"/><circle cx="142.1" cy="786.7" r="2.85"/><circle cx="144.4" cy="826.1" r="2.85"/><circle cx="146.7" cy="836.2" r="2.85"/><circle cx="149.1" cy="845.8" r="2.85"/><circle cx="151.4" cy="776.8" r="2.85"/><circle cx="153.7" cy="806.3" r="2.85"/><circle cx="156.0" cy="841.1" r="2.85"/><circle cx="158.3" cy="811.1" r="2.85"/><circle cx="160.6" cy="781.8" r="2.85"/><circle cx="162.9" cy="845.8" r="2.85"/><circle cx="165.2" cy="841.1" r="2.85"/><circle cx="167.6" cy="747.4" r="2.85"/><circle cx="169.9" cy="747.4" r="2.85"/><circle cx="172.2" cy="806.3" r="2.85"/><circle cx="174.5" cy="771.8" r="2.85"/><circle cx="176.8" cy="776.8" r="2.85"/><circle cx="179.1" cy="806.3" r="2.85"/><circle cx="181.4" cy="781.8" r="2.85"/><circle cx="183.7" cy="855.1" r="2.85"/><circle cx="186.1" cy="801.5" r="2.85"/><circle cx="188.4" cy="816.2" r="2.85"/><circle cx="190.7" cy="757.1" r="2.85"/><circle cx="193.0" cy="747.4" r="2.85"/><circle cx="195.3" cy="821.2" r="2.85"/><circle cx="197.6" cy="781.8" r="2.85"/><circle cx="199.9" cy="811.1" r="2.85"/><circle cx="202.2" cy="796.8" r="2.85"/><circle cx="204.6" cy="841.1" r="2.85"/><circle cx="206.9" cy="796.8" r="2.85"/><circle cx="209.2" cy="816.2" r="2.85"/><circle cx="211.5" cy="801.5" r="2.85"/><circle cx="213.8" cy="841.1" r="2.85"/><circle cx="216.1" cy="742.5" r="2.85"/><circle cx="218.4" cy="757.1" r="2.85"/><circle cx="220.8" cy="757.1" r="2.85"/><circle cx="223.1" cy="801.5" r="2.85"/><circle cx="225.4" cy="821.2" r="2.85"/><circle cx="227.7" cy="806.4" r="2.85"/><circle cx="230.0" cy="786.7" r="2.85"/><circle cx="232.3" cy="732.4" r="2.85"/><circle cx="234.6" cy="831.1" r="2.85"/><circle cx="236.9" cy="796.5" r="2.85"/><circle cx="239.3" cy="796.5" r="2.85"/><circle cx="241.6" cy="831.1" r="2.85"/><circle cx="243.9" cy="806.4" r="2.85"/><circle cx="246.2" cy="811.1" r="2.85"/><circle cx="248.5" cy="816.5" r="2.85"/><circle cx="250.8" cy="742.5" r="2.85"/><circle cx="253.1" cy="801.5" r="2.85"/><circle cx="255.4" cy="811.1" r="2.85"/><circle cx="257.8" cy="747.4" r="2.85"/><circle cx="260.1" cy="821.2" r="2.85"/><circle cx="262.4" cy="801.5" r="2.85"/><circle cx="264.7" cy="781.8" r="2.85"/><circle cx="267.0" cy="826.1" r="2.85"/><circle cx="269.3" cy="831.1" r="2.85"/><circle cx="271.6" cy="806.4" r="2.85"/><circle cx="274.0" cy="791.8" r="2.85"/><circle cx="276.3" cy="826.1" r="2.85"/><circle cx="278.6" cy="786.7" r="2.85"/><circle cx="280.9" cy="786.7" r="2.85"/><circle cx="283.2" cy="796.5" r="2.85"/><circle cx="285.5" cy="786.7" r="2.85"/><circle cx="287.8" cy="737.4" r="2.85"/><circle cx="290.1" cy="791.8" r="2.85"/><circle cx="292.5" cy="757.1" r="2.85"/><circle cx="294.8" cy="806.4" r="2.85"/><circle cx="297.1" cy="757.1" r="2.85"/><circle cx="299.4" cy="836.2" r="2.85"/><circle cx="301.7" cy="791.8" r="2.85"/><circle cx="304.0" cy="708.3" r="2.85"/><circle cx="306.3" cy="811.1" r="2.85"/></g>
</g>
<path d="M79.8,707.8H305.1V855.8" fill="none" stroke="#1a1a1a" stroke-width="1.3"/>
<line x1="79.8" y1="855.8" x2="79.8" y2="682.5" stroke="#1a1a1a" stroke-width="1.6"/>
<line x1="79.0" y1="855.8" x2="330.3" y2="855.8" stroke="#1a1a1a" stroke-width="1.6"/>
<path d="M79.8,677.5L83.4,690.2L79.8,685.8L76.2,690.2Z" fill="#1a1a1a" stroke="#1a1a1a" stroke-width="0.8" stroke-linejoin="miter"/>
<path d="M335.3,855.8L322.6,852.2L327.0,855.8L322.6,859.4Z" fill="#1a1a1a" stroke="#1a1a1a" stroke-width="0.8"/>
<path d="M72.8,717.70H79.8M72.8,754.60H79.8M72.8,791.50H79.8M72.8,828.40H79.8M76.4,710.32H79.8M76.4,725.08H79.8M76.4,732.46H79.8M76.4,739.84H79.8M76.4,747.22H79.8M76.4,761.98H79.8M76.4,769.36H79.8M76.4,776.74H79.8M76.4,784.12H79.8M76.4,798.88H79.8M76.4,806.26H79.8M76.4,813.64H79.8M76.4,821.02H79.8M76.4,835.78H79.8M76.4,843.16H79.8M76.4,850.54H79.8" stroke="#1a1a1a" stroke-width="1.6" fill="none"/>
<path d="M81.80,855.8V859.3M86.41,855.8V859.3M91.02,855.8V859.3M95.62,855.8V859.3M100.23,855.8V859.3M104.83,855.8V859.3M109.44,855.8V859.3M114.05,855.8V859.3M118.65,855.8V859.3M123.26,855.8V862.8M127.86,855.8V859.3M132.47,855.8V859.3M137.07,855.8V859.3M141.68,855.8V859.3M146.29,855.8V859.3M150.89,855.8V859.3M155.50,855.8V859.3M160.11,855.8V859.3M164.71,855.8V859.3M169.32,855.8V862.8M173.92,855.8V859.3M178.53,855.8V859.3M183.13,855.8V859.3M187.74,855.8V859.3M192.35,855.8V859.3M196.95,855.8V859.3M201.56,855.8V859.3M206.16,855.8V859.3M210.77,855.8V859.3M215.38,855.8V862.8M219.98,855.8V859.3M224.59,855.8V859.3M229.19,855.8V859.3M233.80,855.8V859.3M238.41,855.8V859.3M243.01,855.8V859.3M247.62,855.8V859.3M252.22,855.8V859.3M256.83,855.8V859.3M261.44,855.8V862.8M266.04,855.8V859.3M270.65,855.8V859.3M275.25,855.8V859.3M279.86,855.8V859.3M284.47,855.8V859.3M289.07,855.8V859.3M293.68,855.8V859.3M298.28,855.8V859.3M302.89,855.8V859.3" stroke="#1a1a1a" stroke-width="1.6" fill="none"/>
<line x1="447.5" y1="726.70" x2="670.9" y2="726.70" stroke="#cbcbcb" stroke-width="1.5"/>
<line x1="447.5" y1="775.60" x2="670.9" y2="775.60" stroke="#cbcbcb" stroke-width="1.5"/>
<line x1="447.5" y1="824.50" x2="670.9" y2="824.50" stroke="#cbcbcb" stroke-width="1.5"/>
<line x1="490.53" y1="706.5" x2="490.53" y2="853.3" stroke="#cbcbcb" stroke-width="1.5"/>
<line x1="536.25" y1="706.5" x2="536.25" y2="853.3" stroke="#cbcbcb" stroke-width="1.5"/>
<line x1="581.97" y1="706.5" x2="581.97" y2="853.3" stroke="#cbcbcb" stroke-width="1.5"/>
<line x1="627.69" y1="706.5" x2="627.69" y2="853.3" stroke="#cbcbcb" stroke-width="1.5"/>
<line x1="447.5" y1="713.4" x2="670.9" y2="713.4" stroke="#737373" stroke-width="2" stroke-dasharray="17.51 5.08"/>
<line x1="447.5" y1="837.2" x2="670.9" y2="837.2" stroke="#737373" stroke-width="2" stroke-dasharray="17.51 5.08"/>
<line x1="447.5" y1="775.4" x2="670.9" y2="775.4" stroke="#1c8eff" stroke-width="1.5"/>
<clipPath id="c120"><rect x="447.5" y="706.5" width="223.4" height="146.8"/></clipPath>
<g clip-path="url(#c120)">
<polyline points="447.5,726.7 449.8,785.6 452.1,734.5 454.4,734.5 456.7,774.2 459.0,745.9 461.2,741.9 463.5,828.9 465.8,791.1 468.1,778.6 470.4,823.0 472.7,766.8 475.0,756.1 477.3,719.6 479.6,756.6 481.9,742.7 484.2,756.1 486.4,781.3 488.7,816.3 491.0,799.4 493.3,760.8 495.6,756.1 497.9,775.5 500.2,784.5 502.5,799.4 504.8,794.4 507.1,839.1 509.4,785.7 511.6,775.5 513.9,707.3 516.2,738.5 518.5,761.3 520.8,782.9 523.1,804.9 525.4,800.2 527.7,712.3 530.0,800.5 532.3,800.5 534.6,743.2 536.8,745.9 539.1,779.3 541.4,721.9 543.7,734.9 546.0,784.1 548.3,755.8 550.6,781.3 552.9,800.7 555.2,761.9 557.5,767.1 559.8,747.0 562.0,810.8 564.3,779.0 566.6,782.1 568.9,778.6 571.2,813.9 573.5,745.1 575.8,784.0 578.1,779.0 580.4,793.4 582.7,770.3 585.0,836.1 587.3,763.5 589.5,780.8 591.8,797.4 594.1,779.7 596.4,769.0 598.7,810.8 601.0,821.8 603.3,807.3 605.6,747.5 607.9,736.0 610.2,770.3 612.5,767.9 614.7,820.7 617.0,760.1 619.3,760.1 621.6,769.0 623.9,742.7 626.2,756.1 628.5,746.4 630.8,796.0 633.1,835.2 635.4,803.7 637.7,853.0 639.9,748.7 642.2,791.9 644.5,809.2 646.8,788.4 649.1,791.6 651.4,734.9 653.7,742.3 656.0,754.1 658.3,753.0 660.6,826.5 662.9,781.0 665.1,794.4 667.4,824.3 669.7,716.0 672.0,780.2" fill="none" stroke="#a4a4ff" stroke-width="0.8"/>
<g fill="none" stroke="#0000ff" stroke-width="1.35"><circle cx="447.5" cy="726.7" r="2.85"/><circle cx="449.8" cy="785.6" r="2.85"/><circle cx="452.1" cy="734.5" r="2.85"/><circle cx="454.4" cy="734.5" r="2.85"/><circle cx="456.7" cy="774.2" r="2.85"/><circle cx="459.0" cy="745.9" r="2.85"/><circle cx="461.2" cy="741.9" r="2.85"/><circle cx="463.5" cy="828.9" r="2.85"/><circle cx="465.8" cy="791.1" r="2.85"/><circle cx="468.1" cy="778.6" r="2.85"/><circle cx="470.4" cy="823.0" r="2.85"/><circle cx="472.7" cy="766.8" r="2.85"/><circle cx="475.0" cy="756.1" r="2.85"/><circle cx="477.3" cy="719.6" r="2.85"/><circle cx="479.6" cy="756.6" r="2.85"/><circle cx="481.9" cy="742.7" r="2.85"/><circle cx="484.2" cy="756.1" r="2.85"/><circle cx="486.4" cy="781.3" r="2.85"/><circle cx="488.7" cy="816.3" r="2.85"/><circle cx="491.0" cy="799.4" r="2.85"/><circle cx="493.3" cy="760.8" r="2.85"/><circle cx="495.6" cy="756.1" r="2.85"/><circle cx="497.9" cy="775.5" r="2.85"/><circle cx="500.2" cy="784.5" r="2.85"/><circle cx="502.5" cy="799.4" r="2.85"/><circle cx="504.8" cy="794.4" r="2.85"/><circle cx="507.1" cy="839.1" r="2.85"/><circle cx="509.4" cy="785.7" r="2.85"/><circle cx="511.6" cy="775.5" r="2.85"/><circle cx="513.9" cy="707.3" r="2.85"/><circle cx="516.2" cy="738.5" r="2.85"/><circle cx="518.5" cy="761.3" r="2.85"/><circle cx="520.8" cy="782.9" r="2.85"/><circle cx="523.1" cy="804.9" r="2.85"/><circle cx="525.4" cy="800.2" r="2.85"/><circle cx="527.7" cy="712.3" r="2.85"/><circle cx="530.0" cy="800.5" r="2.85"/><circle cx="532.3" cy="800.5" r="2.85"/><circle cx="534.6" cy="743.2" r="2.85"/><circle cx="536.8" cy="745.9" r="2.85"/><circle cx="539.1" cy="779.3" r="2.85"/><circle cx="541.4" cy="721.9" r="2.85"/><circle cx="543.7" cy="734.9" r="2.85"/><circle cx="546.0" cy="784.1" r="2.85"/><circle cx="548.3" cy="755.8" r="2.85"/><circle cx="550.6" cy="781.3" r="2.85"/><circle cx="552.9" cy="800.7" r="2.85"/><circle cx="555.2" cy="761.9" r="2.85"/><circle cx="557.5" cy="767.1" r="2.85"/><circle cx="559.8" cy="747.0" r="2.85"/><circle cx="562.0" cy="810.8" r="2.85"/><circle cx="564.3" cy="779.0" r="2.85"/><circle cx="566.6" cy="782.1" r="2.85"/><circle cx="568.9" cy="778.6" r="2.85"/><circle cx="571.2" cy="813.9" r="2.85"/><circle cx="573.5" cy="745.1" r="2.85"/><circle cx="575.8" cy="784.0" r="2.85"/><circle cx="578.1" cy="779.0" r="2.85"/><circle cx="580.4" cy="793.4" r="2.85"/><circle cx="582.7" cy="770.3" r="2.85"/><circle cx="585.0" cy="836.1" r="2.85"/><circle cx="587.3" cy="763.5" r="2.85"/><circle cx="589.5" cy="780.8" r="2.85"/><circle cx="591.8" cy="797.4" r="2.85"/><circle cx="594.1" cy="779.7" r="2.85"/><circle cx="596.4" cy="769.0" r="2.85"/><circle cx="598.7" cy="810.8" r="2.85"/><circle cx="601.0" cy="821.8" r="2.85"/><circle cx="603.3" cy="807.3" r="2.85"/><circle cx="605.6" cy="747.5" r="2.85"/><circle cx="607.9" cy="736.0" r="2.85"/><circle cx="610.2" cy="770.3" r="2.85"/><circle cx="612.5" cy="767.9" r="2.85"/><circle cx="614.7" cy="820.7" r="2.85"/><circle cx="617.0" cy="760.1" r="2.85"/><circle cx="619.3" cy="760.1" r="2.85"/><circle cx="621.6" cy="769.0" r="2.85"/><circle cx="623.9" cy="742.7" r="2.85"/><circle cx="626.2" cy="756.1" r="2.85"/><circle cx="628.5" cy="746.4" r="2.85"/><circle cx="630.8" cy="796.0" r="2.85"/><circle cx="633.1" cy="835.2" r="2.85"/><circle cx="635.4" cy="803.7" r="2.85"/><circle cx="637.7" cy="853.0" r="2.85"/><circle cx="639.9" cy="748.7" r="2.85"/><circle cx="642.2" cy="791.9" r="2.85"/><circle cx="644.5" cy="809.2" r="2.85"/><circle cx="646.8" cy="788.4" r="2.85"/><circle cx="649.1" cy="791.6" r="2.85"/><circle cx="651.4" cy="734.9" r="2.85"/><circle cx="653.7" cy="742.3" r="2.85"/><circle cx="656.0" cy="754.1" r="2.85"/><circle cx="658.3" cy="753.0" r="2.85"/><circle cx="660.6" cy="826.5" r="2.85"/><circle cx="662.9" cy="781.0" r="2.85"/><circle cx="665.1" cy="794.4" r="2.85"/><circle cx="667.4" cy="824.3" r="2.85"/><circle cx="669.7" cy="716.0" r="2.85"/><circle cx="672.0" cy="780.2" r="2.85"/></g>
</g>
<path d="M447.5,706.5H670.9V853.3" fill="none" stroke="#1a1a1a" stroke-width="1.3"/>
<line x1="447.5" y1="853.3" x2="447.5" y2="681.2" stroke="#1a1a1a" stroke-width="1.6"/>
<line x1="446.7" y1="853.3" x2="696.1" y2="853.3" stroke="#1a1a1a" stroke-width="1.6"/>
<path d="M447.5,676.2L451.1,688.9L447.5,684.5L443.9,688.9Z" fill="#1a1a1a" stroke="#1a1a1a" stroke-width="0.8" stroke-linejoin="miter"/>
<path d="M701.1,853.3L688.4,849.7L692.8,853.3L688.4,856.9Z" fill="#1a1a1a" stroke="#1a1a1a" stroke-width="0.8"/>
<path d="M440.5,726.70H447.5M440.5,775.60H447.5M440.5,824.50H447.5M444.1,716.92H447.5M444.1,736.48H447.5M444.1,746.26H447.5M444.1,756.04H447.5M444.1,765.82H447.5M444.1,785.38H447.5M444.1,795.16H447.5M444.1,804.94H447.5M444.1,814.72H447.5M444.1,834.28H447.5M444.1,844.06H447.5" stroke="#1a1a1a" stroke-width="1.6" fill="none"/>
<path d="M449.39,853.3V856.8M453.96,853.3V856.8M458.53,853.3V856.8M463.10,853.3V856.8M467.67,853.3V856.8M472.25,853.3V856.8M476.82,853.3V856.8M481.39,853.3V856.8M485.96,853.3V856.8M490.53,853.3V860.3M495.11,853.3V856.8M499.68,853.3V856.8M504.25,853.3V856.8M508.82,853.3V856.8M513.39,853.3V856.8M517.97,853.3V856.8M522.54,853.3V856.8M527.11,853.3V856.8M531.68,853.3V856.8M536.25,853.3V860.3M540.83,853.3V856.8M545.40,853.3V856.8M549.97,853.3V856.8M554.54,853.3V856.8M559.11,853.3V856.8M563.69,853.3V856.8M568.26,853.3V856.8M572.83,853.3V856.8M577.40,853.3V856.8M581.97,853.3V860.3M586.55,853.3V856.8M591.12,853.3V856.8M595.69,853.3V856.8M600.26,853.3V856.8M604.83,853.3V856.8M609.41,853.3V856.8M613.98,853.3V856.8M618.55,853.3V856.8M623.12,853.3V856.8M627.69,853.3V860.3M632.27,853.3V856.8M636.84,853.3V856.8M641.41,853.3V856.8M645.98,853.3V856.8M650.55,853.3V856.8M655.13,853.3V856.8M659.70,853.3V856.8M664.27,853.3V856.8M668.84,853.3V856.8" stroke="#1a1a1a" stroke-width="1.6" fill="none"/>
<rect x="230.9" y="12.9" width="12.4" height="1.2" fill="#111"/>
<rect x="596.0" y="12.9" width="12.0" height="1.2" fill="#111"/>
<rect x="229.4" y="338.6" width="12.4" height="1.2" fill="#111"/>
<rect x="596.3" y="338.6" width="12.7" height="1.2" fill="#111"/>
<rect x="229.4" y="664.0" width="12.7" height="1.2" fill="#111"/>
<rect x="597.0" y="664.0" width="12.3" height="1.2" fill="#111"/>
<path d="M513.9,367.5H518.6M516.2,365.7V369.5M516.4,369.1L518.4,372.4" stroke="#9a9a9a" stroke-width="1.1" fill="none" opacity="0.75"/>
<rect x="209.3" y="834.8" width="1.6" height="3.2" fill="#c4c4c4"/>
<g class="txt">
<text x="66.9" y="72.4" text-anchor="end" class="tk">2.853</text>
<text x="66.9" y="97.3" text-anchor="end" class="tk">2.852</text>
<text x="66.9" y="122.2" text-anchor="end" class="tk">2.851</text>
<text x="66.9" y="147.1" text-anchor="end" class="tk">2.850</text>
<text x="66.9" y="172.0" text-anchor="end" class="tk">2.849</text>
<text x="66.9" y="196.9" text-anchor="end" class="tk">2.848</text>
<text x="125.0" y="223.4" text-anchor="middle" class="tk">19.00</text>
<text x="171.3" y="223.4" text-anchor="middle" class="tk">39.00</text>
<text x="217.5" y="223.4" text-anchor="middle" class="tk">59.00</text>
<text x="263.8" y="223.4" text-anchor="middle" class="tk">79.00</text>
<text x="67.8" y="42.6" text-anchor="end" class="un">μm</text>
<text transform="translate(18.4,130.0) rotate(-90)" text-anchor="middle" class="yl" textLength="43.6" lengthAdjust="spacingAndGlyphs">Sa (μm)</text>
<text x="314.0" y="74.2" class="rl" textLength="21.3" lengthAdjust="spacingAndGlyphs">+2σ</text>
<text x="317.4" y="136.3" class="rl" textLength="6.9" lengthAdjust="spacingAndGlyphs">μ</text>
<text x="313.9" y="198.3" class="rl" textLength="21.3" lengthAdjust="spacingAndGlyphs">−2σ</text>
<text x="433.6" y="78.5" text-anchor="end" class="tk">5.40</text>
<text x="433.6" y="116.3" text-anchor="end" class="tk">5.39</text>
<text x="433.6" y="154.1" text-anchor="end" class="tk">5.38</text>
<text x="433.6" y="191.9" text-anchor="end" class="tk">5.37</text>
<text x="491.6" y="224.5" text-anchor="middle" class="tk">19.00</text>
<text x="537.8" y="224.5" text-anchor="middle" class="tk">39.00</text>
<text x="583.9" y="224.5" text-anchor="middle" class="tk">59.00</text>
<text x="630.1" y="224.5" text-anchor="middle" class="tk">79.00</text>
<text x="434.6" y="43.6" text-anchor="end" class="un">μm</text>
<text transform="translate(385.0,130.7) rotate(-90)" text-anchor="middle" class="yl" textLength="47.4" lengthAdjust="spacingAndGlyphs">Sal (μm)</text>
<text x="680.4" y="71.8" class="rl" textLength="21.3" lengthAdjust="spacingAndGlyphs">+2σ</text>
<text x="683.9" y="125.8" class="rl" textLength="6.9" lengthAdjust="spacingAndGlyphs">μ</text>
<text x="680.4" y="181.1" class="rl" textLength="21.3" lengthAdjust="spacingAndGlyphs">−2σ</text>
<text x="66.7" y="427.6" text-anchor="end" class="tk">0.910</text>
<text x="66.7" y="480.6" text-anchor="end" class="tk">0.905</text>
<text x="66.7" y="533.7" text-anchor="end" class="tk">0.900</text>
<text x="124.6" y="549.3" text-anchor="middle" class="tk">19.00</text>
<text x="170.9" y="549.3" text-anchor="middle" class="tk">39.00</text>
<text x="217.1" y="549.3" text-anchor="middle" class="tk">59.00</text>
<text x="263.3" y="549.3" text-anchor="middle" class="tk">79.00</text>
<text transform="translate(19.0,456.0) rotate(-90)" text-anchor="middle" class="yl">Str</text>
<text x="317.1" y="439.8" class="rl" textLength="6.9" lengthAdjust="spacingAndGlyphs">μ</text>
<text x="313.4" y="521.1" class="rl" textLength="21.3" lengthAdjust="spacingAndGlyphs">−2σ</text>
<text x="433.6" y="384.6" text-anchor="end" class="tk">105.4</text>
<text x="433.6" y="532.8" text-anchor="end" class="tk">104.6</text>
<text x="491.3" y="548.4" text-anchor="middle" class="tk">19.00</text>
<text x="537.1" y="548.4" text-anchor="middle" class="tk">39.00</text>
<text x="582.9" y="548.4" text-anchor="middle" class="tk">59.00</text>
<text x="628.7" y="548.4" text-anchor="middle" class="tk">79.00</text>
<text x="434.0" y="368.0" text-anchor="end" class="un">%</text>
<text transform="translate(386.0,454.2) rotate(-90)" text-anchor="middle" class="yl">Sdr</text>
<text x="678.6" y="402.0" class="rl" textLength="21.3" lengthAdjust="spacingAndGlyphs">+2σ</text>
<text x="682.1" y="466.1" class="rl" textLength="6.9" lengthAdjust="spacingAndGlyphs">μ</text>
<text x="678.6" y="525.1" class="rl" textLength="21.3" lengthAdjust="spacingAndGlyphs">−2σ</text>
<text x="65.9" y="722.1" text-anchor="end" class="tk">0.0026</text>
<text x="65.9" y="759.0" text-anchor="end" class="tk">0.0025</text>
<text x="65.9" y="795.9" text-anchor="end" class="tk">0.0024</text>
<text x="65.9" y="832.8" text-anchor="end" class="tk">0.0023</text>
<text x="123.9" y="875.8" text-anchor="middle" class="tk">19.00</text>
<text x="169.9" y="875.8" text-anchor="middle" class="tk">39.00</text>
<text x="216.0" y="875.8" text-anchor="middle" class="tk">59.00</text>
<text x="262.0" y="875.8" text-anchor="middle" class="tk">79.00</text>
<text x="67.0" y="695.5" text-anchor="end" class="un">1/μm²</text>
<text transform="translate(18.2,782.3) rotate(-90)" text-anchor="middle" class="yl">Spd</text>
<text x="312.4" y="735.3" class="rl" textLength="21.3" lengthAdjust="spacingAndGlyphs">+2σ</text>
<text x="315.6" y="799.8" class="rl" textLength="6.9" lengthAdjust="spacingAndGlyphs">μ</text>
<text x="433.6" y="731.1" text-anchor="end" class="tk">15</text>
<text x="433.6" y="780.0" text-anchor="end" class="tk">14</text>
<text x="433.6" y="828.9" text-anchor="end" class="tk">13</text>
<text x="491.1" y="873.3" text-anchor="middle" class="tk">19.00</text>
<text x="536.9" y="873.3" text-anchor="middle" class="tk">39.00</text>
<text x="582.6" y="873.3" text-anchor="middle" class="tk">59.00</text>
<text x="628.3" y="873.3" text-anchor="middle" class="tk">79.00</text>
<text x="434.6" y="694.5" text-anchor="end" class="un">1/μm</text>
<text transform="translate(386.0,779.7) rotate(-90)" text-anchor="middle" class="yl">Spc</text>
<text x="678.1" y="720.3" class="rl" textLength="21.3" lengthAdjust="spacingAndGlyphs">+2σ</text>
<text x="681.6" y="781.8" class="rl" textLength="6.9" lengthAdjust="spacingAndGlyphs">μ</text>
<text x="678.2" y="843.9" class="rl" textLength="21.3" lengthAdjust="spacingAndGlyphs">−2σ</text>
<text x="97.6" y="18.0" class="ti" textLength="130.8" lengthAdjust="spacingAndGlyphs">Height parameter</text>
<text x="245.1" y="18.0" class="ti">S</text>
<text x="254.4" y="17.7" class="sb">a</text>
<text x="462.1" y="18.0" class="ti" textLength="130.8" lengthAdjust="spacingAndGlyphs">Spatial parameter</text>
<text x="609.8" y="18.0" class="ti">S</text>
<text x="618.2" y="17.7" class="sb">al</text>
<text x="96.4" y="343.7" class="ti" textLength="131.0" lengthAdjust="spacingAndGlyphs">Spatial parameter</text>
<text x="243.5" y="343.7" class="ti">S</text>
<text x="253.0" y="343.4" class="sb">tr</text>
<text x="460.3" y="343.7" class="ti" textLength="132.9" lengthAdjust="spacingAndGlyphs">Hybrid parameter</text>
<text x="610.4" y="343.7" class="ti">S</text>
<text x="619.6" y="343.4" class="sb">dr</text>
<text x="91.8" y="669.1" class="ti" textLength="134.9" lengthAdjust="spacingAndGlyphs">Feature parameter</text>
<text x="243.9" y="669.1" class="ti">S</text>
<text x="253.1" y="668.8" class="sb">pd</text>
<text x="459.6" y="669.1" class="ti" textLength="135.0" lengthAdjust="spacingAndGlyphs">Feature parameter</text>
<text x="611.1" y="669.1" class="ti">S</text>
<text x="620.5" y="668.8" class="sb">pc</text>
<text x="104.7" y="253.4" text-anchor="middle" class="tb" textLength="91.5" lengthAdjust="spacingAndGlyphs">Mean value:</text>
<text transform="translate(219.1,253.4) scale(0.943,1)" class="tv">2.851</text>
<text x="285.0" y="253.4" class="tb" textLength="24.2" lengthAdjust="spacingAndGlyphs">μm</text>
<text x="104.7" y="275.7" text-anchor="middle" class="tb" textLength="74.4" lengthAdjust="spacingAndGlyphs">Std value:</text>
<text transform="translate(219.1,275.7) scale(0.943,1)" class="tv">0.00124</text>
<text x="285.0" y="275.7" class="tb" textLength="24.2" lengthAdjust="spacingAndGlyphs">μm</text>
<text x="104.7" y="298.0" text-anchor="middle" class="tb" textLength="80.2" lengthAdjust="spacingAndGlyphs">Min value:</text>
<text transform="translate(219.1,298.0) scale(0.943,1)" class="tv">2.848</text>
<text x="285.0" y="298.0" class="tb" textLength="24.2" lengthAdjust="spacingAndGlyphs">μm</text>
<text x="104.7" y="320.4" text-anchor="middle" class="tb" textLength="82.2" lengthAdjust="spacingAndGlyphs">Max value:</text>
<text transform="translate(219.1,320.4) scale(0.943,1)" class="tv">2.853</text>
<text x="285.0" y="320.4" class="tb" textLength="24.2" lengthAdjust="spacingAndGlyphs">μm</text>
<text x="453.7" y="253.4" text-anchor="middle" class="tb" textLength="91.5" lengthAdjust="spacingAndGlyphs">Mean value:</text>
<text transform="translate(540.3000000000001,253.4) scale(0.943,1)" class="tv">5.388</text>
<text x="611.4" y="253.4" class="tb" textLength="24.2" lengthAdjust="spacingAndGlyphs">μm</text>
<text x="453.7" y="275.7" text-anchor="middle" class="tb" textLength="74.4" lengthAdjust="spacingAndGlyphs">Std value:</text>
<text transform="translate(540.3000000000001,275.7) scale(0.943,1)" class="tv">0.007259</text>
<text x="611.4" y="275.7" class="tb" textLength="24.2" lengthAdjust="spacingAndGlyphs">μm</text>
<text x="453.7" y="298.0" text-anchor="middle" class="tb" textLength="80.2" lengthAdjust="spacingAndGlyphs">Min value:</text>
<text transform="translate(540.3000000000001,298.0) scale(0.943,1)" class="tv">5.365</text>
<text x="611.4" y="298.0" class="tb" textLength="24.2" lengthAdjust="spacingAndGlyphs">μm</text>
<text x="453.7" y="320.4" text-anchor="middle" class="tb" textLength="82.2" lengthAdjust="spacingAndGlyphs">Max value:</text>
<text transform="translate(540.3000000000001,320.4) scale(0.943,1)" class="tv">5.405</text>
<text x="611.4" y="320.4" class="tb" textLength="24.2" lengthAdjust="spacingAndGlyphs">μm</text>
<text x="104.8" y="579.0" text-anchor="middle" class="tb" textLength="91.5" lengthAdjust="spacingAndGlyphs">Mean value:</text>
<text transform="translate(219.1,579.0) scale(0.943,1)" class="tv">0.9090</text>
<text x="104.8" y="601.5" text-anchor="middle" class="tb" textLength="74.4" lengthAdjust="spacingAndGlyphs">Std value:</text>
<text transform="translate(219.1,601.5) scale(0.943,1)" class="tv">0.003825</text>
<text x="104.8" y="623.9" text-anchor="middle" class="tb" textLength="80.2" lengthAdjust="spacingAndGlyphs">Min value:</text>
<text transform="translate(219.1,623.9) scale(0.943,1)" class="tv">0.8999</text>
<text x="104.8" y="647.0" text-anchor="middle" class="tb" textLength="82.2" lengthAdjust="spacingAndGlyphs">Max value:</text>
<text transform="translate(219.1,647.0) scale(0.943,1)" class="tv">0.9140</text>
<text x="453.7" y="579.0" text-anchor="middle" class="tb" textLength="91.5" lengthAdjust="spacingAndGlyphs">Mean value:</text>
<text transform="translate(540.7,579.0) scale(0.943,1)" class="tv">104.9</text>
<text x="611.2" y="579.0" class="tb" textLength="13.4" lengthAdjust="spacingAndGlyphs">%</text>
<text x="453.7" y="601.5" text-anchor="middle" class="tb" textLength="74.4" lengthAdjust="spacingAndGlyphs">Std value:</text>
<text transform="translate(540.7,601.5) scale(0.943,1)" class="tv">0.1678</text>
<text x="611.2" y="601.5" class="tb" textLength="13.4" lengthAdjust="spacingAndGlyphs">%</text>
<text x="453.7" y="623.9" text-anchor="middle" class="tb" textLength="80.2" lengthAdjust="spacingAndGlyphs">Min value:</text>
<text transform="translate(540.7,623.9) scale(0.943,1)" class="tv">104.6</text>
<text x="611.2" y="623.9" class="tb" textLength="13.4" lengthAdjust="spacingAndGlyphs">%</text>
<text x="453.7" y="647.0" text-anchor="middle" class="tb" textLength="82.2" lengthAdjust="spacingAndGlyphs">Max value:</text>
<text transform="translate(540.7,647.0) scale(0.943,1)" class="tv">105.4</text>
<text x="611.2" y="647.0" class="tb" textLength="13.4" lengthAdjust="spacingAndGlyphs">%</text>
<text x="104.8" y="905.0" text-anchor="middle" class="tb" textLength="91.5" lengthAdjust="spacingAndGlyphs">Mean value:</text>
<text x="453.7" y="905.0" text-anchor="middle" class="tb" textLength="91.5" lengthAdjust="spacingAndGlyphs">Mean value:</text>
<text x="104.8" y="938.6" text-anchor="middle" class="tb" textLength="74.4" lengthAdjust="spacingAndGlyphs">Std value:</text>
<text x="453.7" y="938.6" text-anchor="middle" class="tb" textLength="74.4" lengthAdjust="spacingAndGlyphs">Std value:</text>
<text x="104.8" y="972.2" text-anchor="middle" class="tb" textLength="80.2" lengthAdjust="spacingAndGlyphs">Min value:</text>
<text x="453.7" y="972.2" text-anchor="middle" class="tb" textLength="80.2" lengthAdjust="spacingAndGlyphs">Min value:</text>
<text x="104.8" y="994.6" text-anchor="middle" class="tb" textLength="82.2" lengthAdjust="spacingAndGlyphs">Max value:</text>
<text x="453.7" y="994.6" text-anchor="middle" class="tb" textLength="82.2" lengthAdjust="spacingAndGlyphs">Max value:</text>
<text transform="translate(219.1,905.0) scale(0.943,1)" class="tv">0.002394</text>
<text transform="translate(219.1,927.0) scale(0.943,1)" class="tv">0.0000882</text>
<text transform="translate(219.1,949.6) scale(0.943,1)" class="tv">4</text>
<text transform="translate(219.1,972.2) scale(0.943,1)" class="tv">0.002225</text>
<text transform="translate(219.1,994.6) scale(0.943,1)" class="tv">0.002627</text>
<text x="293.0" y="905.0" class="tb" textLength="44.2" lengthAdjust="spacingAndGlyphs">1/μm²</text>
<text x="293.0" y="938.6" class="tb" textLength="44.2" lengthAdjust="spacingAndGlyphs">1/μm²</text>
<text x="293.0" y="972.2" class="tb" textLength="44.2" lengthAdjust="spacingAndGlyphs">1/μm²</text>
<text x="293.0" y="994.6" class="tb" textLength="44.2" lengthAdjust="spacingAndGlyphs">1/μm²</text>
<text transform="translate(540.7,905.0) scale(0.943,1)" class="tv">14.01</text>
<text x="611.2" y="905.0" class="tb" textLength="38.6" lengthAdjust="spacingAndGlyphs">1/μm</text>
<text transform="translate(540.7,938.6) scale(0.943,1)" class="tv">0.6321</text>
<text x="611.2" y="938.6" class="tb" textLength="38.6" lengthAdjust="spacingAndGlyphs">1/μm</text>
<text transform="translate(540.7,972.2) scale(0.943,1)" class="tv">12.41</text>
<text x="611.2" y="972.2" class="tb" textLength="38.6" lengthAdjust="spacingAndGlyphs">1/μm</text>
<text transform="translate(540.7,994.6) scale(0.943,1)" class="tv">15.41</text>
<text x="611.2" y="994.6" class="tb" textLength="38.6" lengthAdjust="spacingAndGlyphs">1/μm</text>
</g>
</svg>
</body></html>
